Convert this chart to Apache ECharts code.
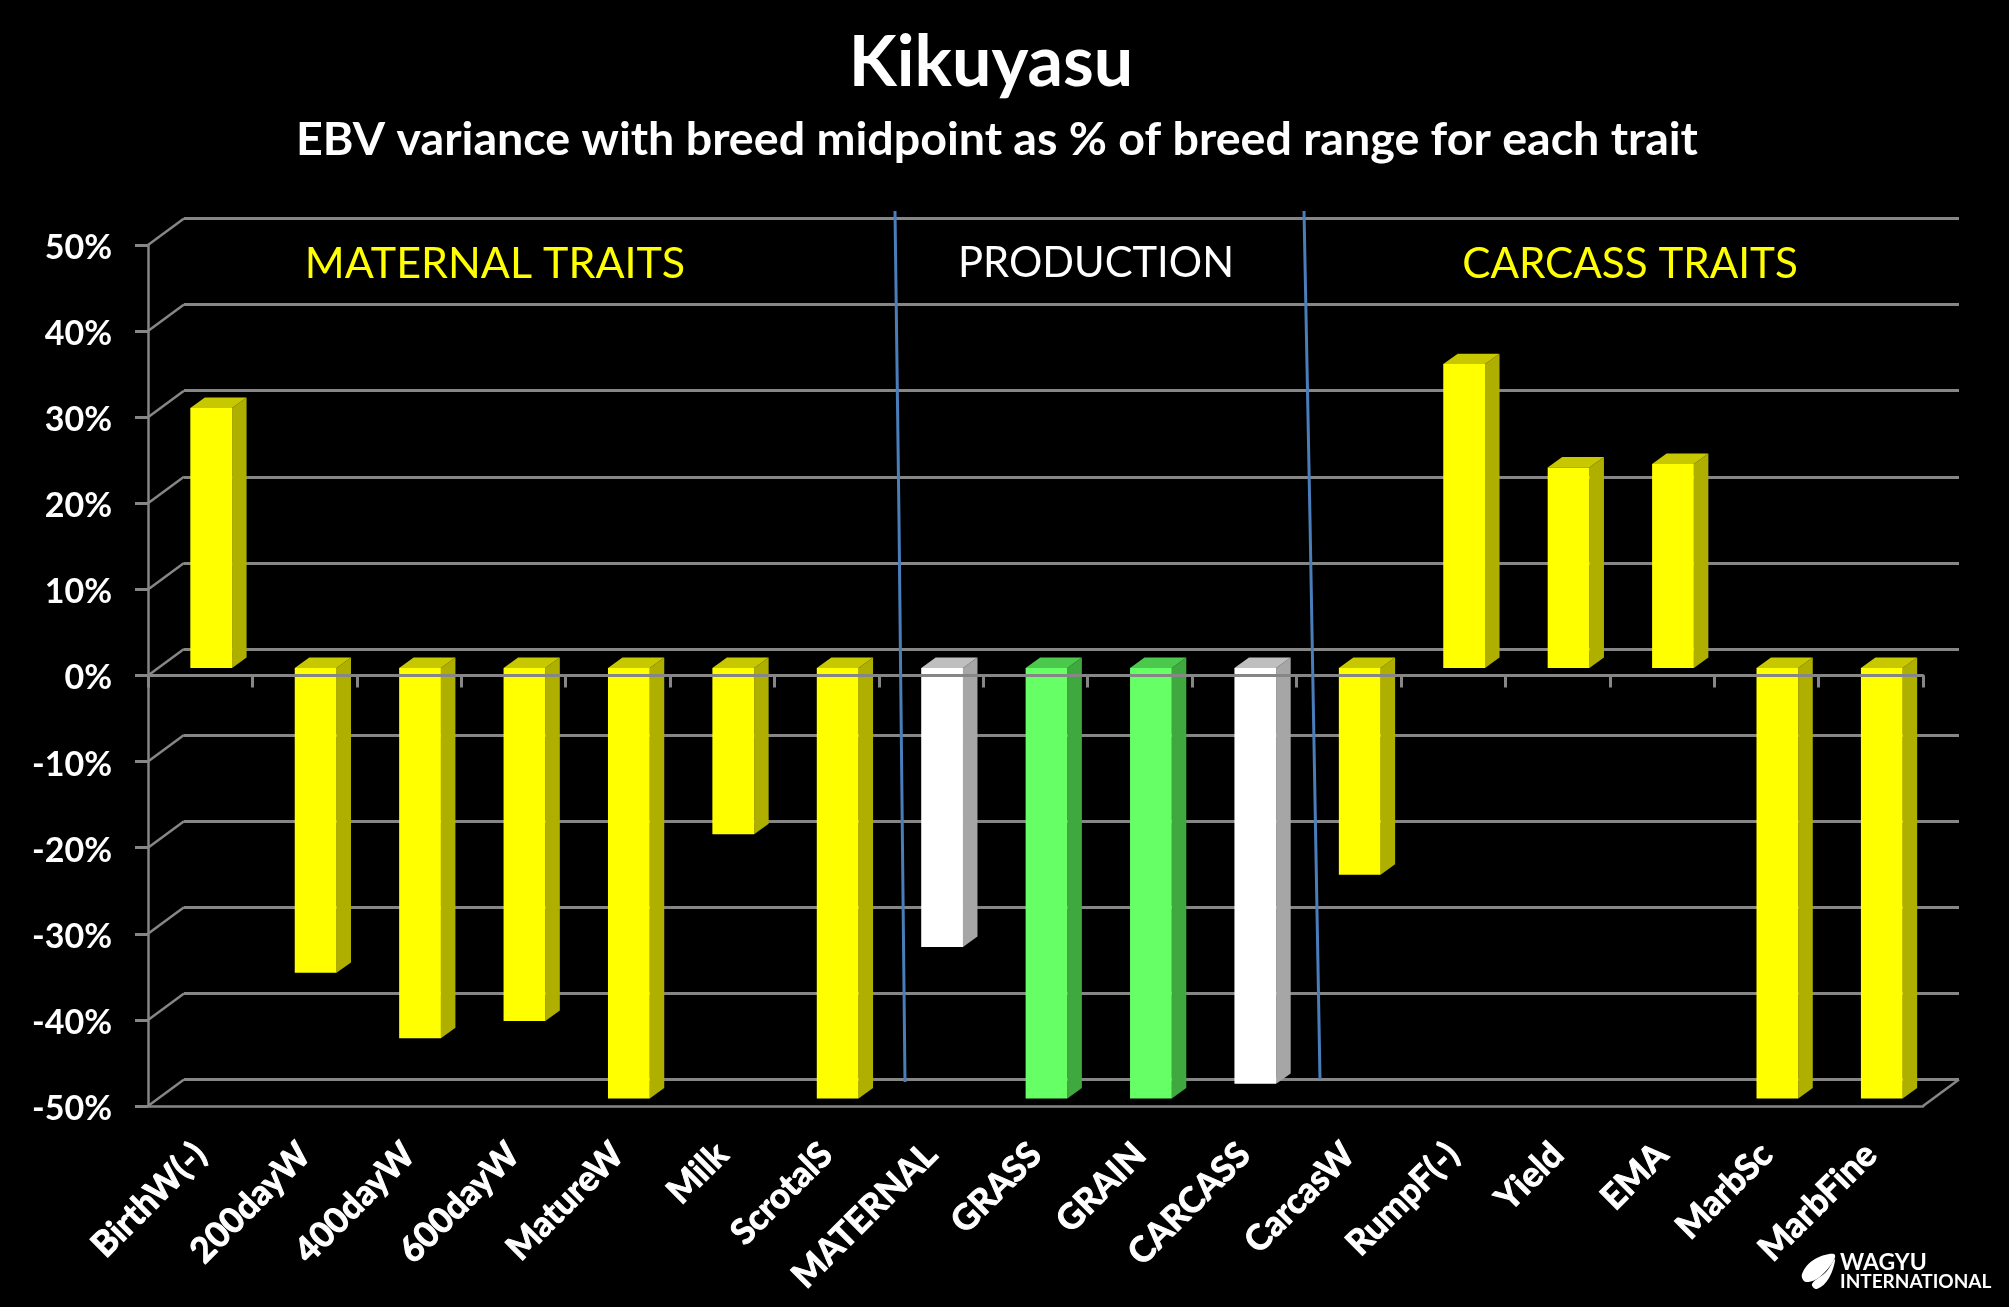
<!DOCTYPE html>
<html><head><meta charset="utf-8">
<style>html,body{margin:0;padding:0;background:#000}#c{width:2009px;height:1307px}</style>
<script src="https://cdn.jsdelivr.net/npm/echarts@6/dist/echarts.min.js"></script>
</head><body><div id="c"></div>
<script>
const categories = ['BirthW(-)','200dayW','400dayW','600dayW','MatureW','Milk','ScrotalS','MATERNAL','GRASS','GRAIN','CARCASS','CarcasW','RumpF(-)','Yield','EMA','MarbSc','MarbFine'];
const values = [30.2,-35.4,-43,-41,-50,-19.3,-50,-32.4,-50,-50,-48.3,-24,35.3,23.3,23.7,-50,-50];
const barGroups = ['y','y','y','y','y','y','y','w','g','g','w','y','y','y','y','y','y'];
const valueTicks = [50,40,30,20,10,0,-10,-20,-30,-40,-50];

const palette = {
  y:{front:'#ffff00',side:'#afaf00',top:'#c8c800'},
  g:{front:'#66ff66',side:'#3fa93f',top:'#4cc94c'},
  w:{front:'#ffffff',side:'#a6a6a6',top:'#bfbfbf'}
};
const GRID = '#868686';
const FONT = 'Lato';
const wallDx = 36, wallDy = -26.5;
const barOffX = 11, barOffY = -7.5, barDepthX = 14.5, barDepthY = -10.4, barFrac = 0.4;

function poly(points, fill){
  return {type:'polygon', shape:{points}, style:{fill, stroke:null}};
}
function renderBar(params, api){
  const i = api.value(0), v = api.value(1);
  const base = api.coord([i,0]), tip = api.coord([i,v]);
  const w = api.size([1,0])[0]*barFrac;
  const x0 = base[0]+barOffX-w/2, x1 = x0+w;
  const yTip = tip[1]+barOffY, yBase = base[1]+barOffY;
  const yTop = Math.min(yTip,yBase), yBot = Math.max(yTip,yBase);
  const c = palette[barGroups[i]];
  return {type:'group', children:[
    poly([[x1,yTop],[x1+barDepthX,yTop+barDepthY],[x1+barDepthX,yBot+barDepthY],[x1,yBot]], c.side),
    poly([[x0,yTop],[x0+barDepthX,yTop+barDepthY],[x1+barDepthX,yTop+barDepthY],[x1,yTop]], c.top),
    poly([[x0,yTop],[x1,yTop],[x1,yBot],[x0,yBot]], c.front)
  ]};
}
function renderDiagonal(params, api){
  const v = api.value(0);
  const cs = params.coordSys;
  const y = api.coord([0,v])[1];
  const items = [{type:'line', shape:{x1:cs.x,y1:y,x2:cs.x+wallDx,y2:y+wallDy}, style:{stroke:GRID,lineWidth:2.5}}];
  if (v === valueTicks[valueTicks.length-1]) {
    items.push({type:'line', shape:{x1:cs.x+cs.width,y1:y,x2:cs.x+cs.width+wallDx,y2:y+wallDy}, style:{stroke:GRID,lineWidth:2.5}});
  }
  return {type:'group', children:items};
}
const titleText = (text,x,y,size,weight,color)=>({text,left:x,top:y,textAlign:'center',textVerticalAlign:'middle',
  textStyle:{color,fontFamily:FONT,fontSize:size,fontWeight:weight}});

const chart = echarts.init(document.getElementById('c'),null,{renderer:'canvas'});
chart.setOption({
  animation:false,
  backgroundColor:'#000',
  title:[
    titleText('Kikuyasu',986,58,70,'bold','#fff'),
    titleText('EBV variance with breed midpoint as % of breed range for each trait',992,135,46.6,'bold','#fff'),
    titleText('MATERNAL TRAITS',490,259,43,'normal','#ffff00'),
    titleText('PRODUCTION',1091,259,41.7,'normal','#ffffff'),
    titleText('CARCASS TRAITS',1625,259,42.2,'normal','#ffff00')
  ],
  grid:[
    {left:148,right:86,top:245,bottom:201},
    {left:184,right:50,top:218.5,bottom:227.5}
  ],
  xAxis:[
    {type:'category',gridIndex:0,data:categories,z:10,
     axisLine:{show:true,onZero:true,lineStyle:{color:GRID,width:3}},
     axisTick:{show:true,length:12,lineStyle:{color:GRID,width:3}},
     axisLabel:{show:false},splitLine:{show:false}},
    {type:'category',gridIndex:0,data:categories,position:'bottom',z:1,
     axisLine:{show:true,onZero:false,lineStyle:{color:GRID,width:2.5}},
     axisTick:{show:false},
     axisLabel:{show:true,interval:0,rotate:45,margin:43,color:'#fff',fontFamily:FONT,fontWeight:'bold',fontSize:35,textBorderColor:'#fff',textBorderWidth:1},
     splitLine:{show:false}},
    {type:'value',gridIndex:1,min:0,max:1,show:false,splitLine:{show:false}}
  ],
  yAxis:[
    {type:'value',gridIndex:0,min:-50,max:50,interval:10,z:1,
     axisLine:{show:true,onZero:false,lineStyle:{color:GRID,width:2.5}},
     axisTick:{show:true,length:13,lineStyle:{color:GRID,width:3}},
     axisLabel:{show:true,margin:36,formatter:v=>'{a|'+v+'%}',
       rich:{a:{padding:[6,0,0,0],color:'#fff',fontFamily:FONT,fontWeight:'bold',fontSize:34}}},
     splitLine:{show:false}},
    {type:'value',gridIndex:1,min:-50,max:50,interval:10,z:0,
     axisLine:{show:false},axisTick:{show:false},axisLabel:{show:false},
     splitLine:{show:true,lineStyle:{color:GRID,width:3}}}
  ],
  series:[
    {type:'custom',name:'wall',xAxisIndex:0,yAxisIndex:0,z:1,silent:true,
     coordinateSystem:'cartesian2d',renderItem:renderDiagonal,clip:false,
     encode:{y:0},data:valueTicks.map(v=>[v])},
    {type:'custom',name:'EBV variance',xAxisIndex:0,yAxisIndex:0,z:5,clip:false,
     coordinateSystem:'cartesian2d',renderItem:renderBar,
     encode:{x:0,y:1},data:values.map((v,i)=>[i,v])}
  ],
  graphic:[
    {type:'polyline',z:20,shape:{points:[[895,211],[899,520],[905,1082]]},style:{stroke:'#4a7ebb',lineWidth:3,fill:null}},
    {type:'polyline',z:20,shape:{points:[[1304,211],[1310,520],[1320,1079]]},style:{stroke:'#4a7ebb',lineWidth:3,fill:null}},
    {type:'polygon',z:20,shape:{points:[[1835,1255],[1815,1259],[1802,1274],[1806,1282],[1822,1275]],smooth:0.4},style:{fill:'#fff'}},
    {type:'polygon',z:20,shape:{points:[[1835,1259],[1829,1278],[1817,1289],[1812,1284],[1826,1272]],smooth:0.4},style:{fill:'#fff'}},
    {type:'text',z:20,x:1840,y:1251,style:{text:'WAGYU',fill:'#fff',font:'bold 23px Lato'}},
    {type:'text',z:20,x:1840,y:1272,style:{text:'INTERNATIONAL',fill:'#fff',font:'bold 19px Lato'}}
  ]
});
</script></body></html>
